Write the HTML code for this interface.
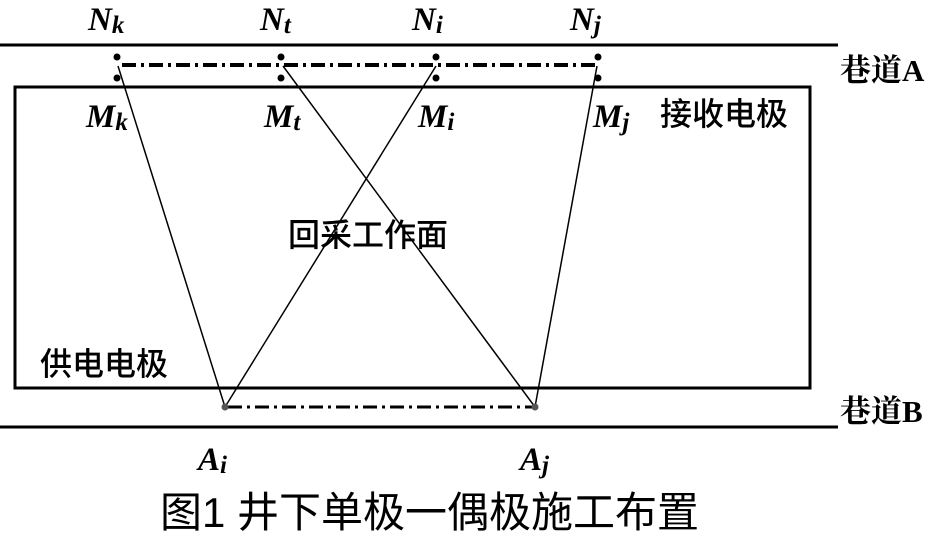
<!DOCTYPE html>
<html><head><meta charset="utf-8"><style>
body{margin:0;background:#fff;width:940px;height:535px;overflow:hidden}
</style></head><body>
<svg width="940" height="535" viewBox="0 0 940 535" xmlns="http://www.w3.org/2000/svg">
<g stroke="#000" fill="none">
<line x1="0" y1="45" x2="838" y2="45" stroke-width="3"/>
<line x1="0" y1="427" x2="838" y2="427" stroke-width="3"/>
<rect x="15" y="87" width="795" height="301" stroke-width="3"/>
<line x1="122" y1="65" x2="597" y2="65" stroke-width="4" stroke-dasharray="14,5,3,5"/>
<line x1="228" y1="407" x2="535" y2="407" stroke-width="3" stroke-dasharray="14,5,3,5"/>
<g stroke-width="1.5">
<line x1="118" y1="66" x2="225" y2="407"/>
<line x1="283" y1="66" x2="535" y2="407"/>
<line x1="436" y1="66" x2="225" y2="407"/>
<line x1="597" y1="66" x2="535" y2="407"/>
</g>
</g>
<g fill="#000">
<circle cx="117" cy="57" r="3.5"/><circle cx="117" cy="78" r="3.5"/>
<circle cx="281" cy="57" r="3.5"/><circle cx="281" cy="78" r="3.5"/>
<circle cx="436" cy="57" r="3.5"/><circle cx="436" cy="78" r="3.5"/>
<circle cx="598" cy="57" r="3.5"/><circle cx="598" cy="78" r="3.5"/>
<circle cx="225" cy="407" r="3.5" fill="#555"/><circle cx="535" cy="407" r="3.5" fill="#555"/>
</g>
<g font-family="Liberation Serif, serif" font-style="italic" font-weight="bold" font-size="33">
<text x="88" y="30">N<tspan font-size="25" dy="3">k</tspan></text>
<text x="260" y="30">N<tspan font-size="25" dy="3">t</tspan></text>
<text x="412" y="30">N<tspan font-size="25" dy="3">i</tspan></text>
<text x="570" y="30">N<tspan font-size="25" dy="3">j</tspan></text>
<text x="86" y="127">M<tspan font-size="25" dy="3">k</tspan></text>
<text x="264" y="127">M<tspan font-size="25" dy="3">t</tspan></text>
<text x="418" y="127">M<tspan font-size="25" dy="3">i</tspan></text>
<text x="593" y="127">M<tspan font-size="25" dy="3">j</tspan></text>
<text x="198" y="470">A<tspan font-size="25" dy="3">i</tspan></text>
<text x="520" y="470">A<tspan font-size="25" dy="3">j</tspan></text>
</g>
<g font-family="Liberation Serif, Noto Serif CJK SC, serif" font-size="31" font-weight="bold">
<text x="840" y="81">巷道A</text>
<text x="840" y="422">巷道B</text>
</g>
<g font-family="Liberation Sans, Noto Sans CJK SC, sans-serif" font-size="32" font-weight="500">
<text x="660" y="125">接收电极</text>
<text x="288" y="246">回采工作面</text>
<text x="40" y="375">供电电极</text>
<text x="160" y="527" font-size="42" font-weight="normal">图1 井下单极一偶极施工布置</text>
</g>
</svg>
</body></html>
